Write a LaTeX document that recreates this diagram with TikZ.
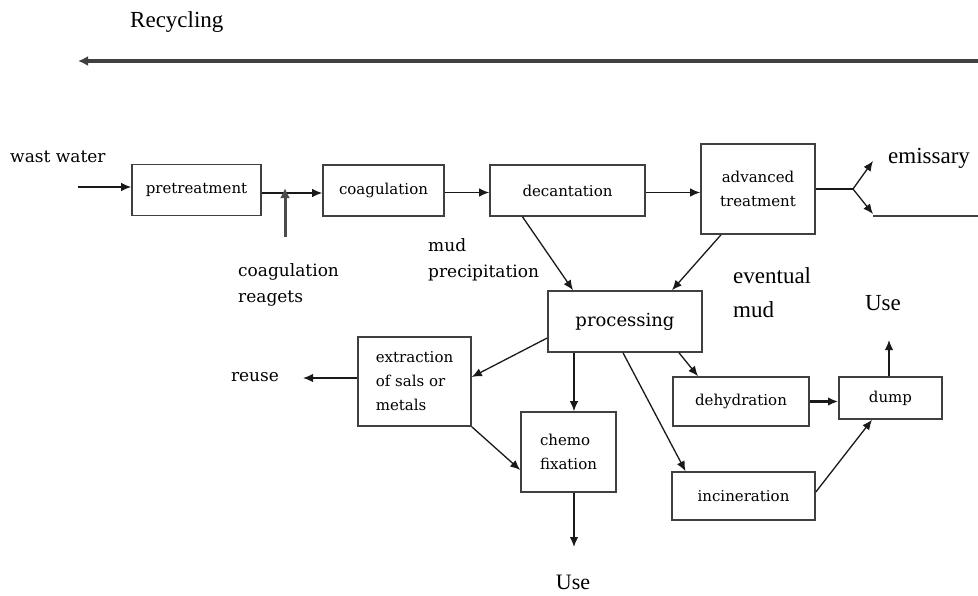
\documentclass[tikz,border=0pt]{standalone}
\usepackage{fontspec}
\setmainfont{Liberation Serif}
\newfontfamily\cambfont{DejaVu Serif}
\usetikzlibrary{arrows.meta}
\tikzset{
  box/.style={draw=black!75, line width=1.6pt, fill=white, inner sep=0pt, font=\cambfont\fontsize{15}{24}\selectfont},
  flow/.style={draw=black!90, line width=1.3pt, -{Latex[length=10pt,width=8.5pt]}},
  heavy/.style={draw=black!70, line width=3pt},
  lbl/.style={inner sep=0pt, font=\cambfont\fontsize{17}{26}\selectfont, align=left},
  tlbl/.style={inner sep=0pt, font=\fontsize{23}{34}\selectfont, align=left}
}
\begin{document}
\begin{tikzpicture}[x=1pt,y=-1pt]
\useasboundingbox (0,0) rectangle (978,595);
% boxes
\node[box, minimum width=129pt, minimum height=51pt] (pre) at (196.5,190) {pretreatment};
\node[box, minimum width=121pt, minimum height=51pt] (coag) at (383.5,190.5) {coagulation};
\node[box, minimum width=155pt, minimum height=51pt] (dec) at (567.5,190.5) {decantation};
\node[box, minimum width=114pt, minimum height=90pt, align=center] (adv) at (758,189) {advanced\\treatment};
\node[box, minimum width=154pt, minimum height=61pt, font=\cambfont\fontsize{18}{24}\selectfont] (proc) at (625,321.5) {processing};
\node[box, minimum width=113pt, minimum height=89pt, align=left] (ext) at (414.5,381.5) {extraction\\of sals or\\metals};
\node[box, minimum width=95pt, minimum height=80pt, align=left] (chemo) at (568.5,452) {chemo\\fixation};
\node[box, minimum width=136pt, minimum height=49pt] (dehy) at (741,401.5) {dehydration};
\node[box, minimum width=103pt, minimum height=42pt] (dump) at (890.5,398) {dump};
\node[box, minimum width=143pt, minimum height=48pt] (inc) at (743.5,496) {incineration};
% labels
\node[tlbl, anchor=west] (recl) at (130,22) {Recycling};
\node[lbl, anchor=west] (ww) at (10,157) {wast water};
\node[lbl, anchor=west] (reag) at (238,285) {coagulation\\reagets};
\node[lbl, anchor=west] (mud) at (428,260) {mud\\precipitation};
\node[tlbl, anchor=west] (evm) at (733,293) {eventual\\mud};
\node[tlbl] (use1) at (883,303) {Use};
\node[tlbl, font=\fontsize{22}{30}\selectfont] (use2) at (573,582) {Use};
\node[tlbl, anchor=west] (emi) at (888,158) {emissary};
\node[lbl] (reuse) at (255,377) {reuse};
% free coordinates
\coordinate (recR) at (978,61);
\coordinate (recL) at (78,61);
\coordinate (win) at (78,187);
\coordinate (crs) at (285,237);
\coordinate (cre) at (285,188);
\coordinate (split) at (853,189);
\coordinate (em1) at (873,161);
\coordinate (em2) at (873,214);
\coordinate (rcx) at (978,216);
\coordinate (reuseE) at (303,378);
\coordinate (useA) at (889,340);
\coordinate (useB) at (574,547);
% connectors
\draw[draw=black!75, line width=3.5pt, -{Latex[length=10pt,width=10pt]}] (recR) -- (recL);
\draw[flow] (win) -- (win -| pre.west);
\draw[flow] ([yshift=-3pt]pre.east) -- ([yshift=-3pt]pre.east -| coag.west);
\draw[heavy, -{Latex[length=10pt,width=10pt]}] (crs) -- (cre);
\draw[flow] ([yshift=-2pt]coag.east) -- ([yshift=-2pt]coag.east -| dec.west);
\draw[flow] ([yshift=-2pt]dec.east) -- ([yshift=-2pt]dec.east -| adv.west);
\draw[draw=black!90, line width=1.3pt] (adv.east) -- (split);
\draw[flow] (split) -- (em1);
\draw[flow] (split) -- (em2);
\draw[draw=black!75, line width=2.5pt] (em2 |- rcx) -- (rcx);
\draw[flow] ([xshift=-45pt]dec.south) -- ([xshift=-52pt]proc.north);
\draw[flow] ([xshift=-37pt]adv.south) -- ([xshift=47pt]proc.north);
\draw[flow] ([yshift=-16.5pt]proc.west) -- ([yshift=4.5pt]ext.east);
\draw[flow] ([yshift=3.5pt]ext.west) -- (reuseE);
\draw[flow] ([xshift=-51pt]proc.south) -- ([xshift=5.5pt]chemo.north);
\draw[flow] (ext.south east) -- ([yshift=-18pt]chemo.west);
\draw[flow] ([xshift=54pt]proc.south) -- ([xshift=-43pt]dehy.north);
\draw[flow] ([xshift=-2pt]proc.south) -- ([xshift=-58pt]inc.north);
\draw[flow, line width=2.4pt] (dehy.east) -- (dehy.east -| dump.west);
\draw[flow] ([yshift=4pt]inc.east) -- ([xshift=-18.5pt]dump.south);
\draw[flow] ([xshift=-1.5pt]dump.north) -- (useA);
\draw[flow] ([xshift=5.5pt]chemo.south) -- (useB);
\end{tikzpicture}
\end{document}
